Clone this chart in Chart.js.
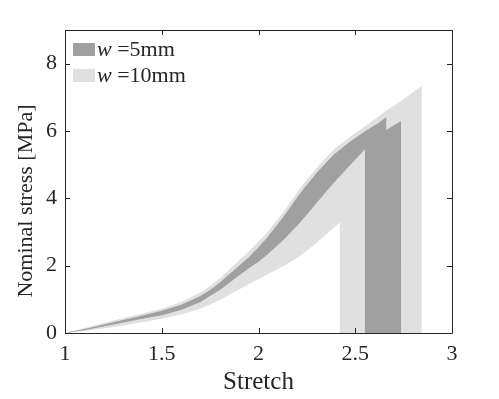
<!DOCTYPE html>
<html>
<head>
<meta charset="utf-8">
<script src="https://cdn.jsdelivr.net/npm/chart.js@4.4.1/dist/chart.umd.min.js"></script>
<style>
  html, body { margin: 0; padding: 0; background: #fff; }
  #wrap { width: 499px; height: 399px; }
</style>
</head>
<body>
<div id="wrap"><canvas id="chart" width="499" height="399"></canvas></div>
<script>
// w = 5mm band (max / min of the samples)
const w5UpperStretch = [1, 1.1, 1.25, 1.4, 1.5, 1.6, 1.7, 1.75, 1.8, 1.87, 1.95, 2.0, 2.043, 2.13, 2.215, 2.3, 2.387, 2.474, 2.56, 2.62, 2.66, 2.6602, 2.737, 2.7372];
const w5UpperStress  = [0, 0.12, 0.32, 0.52, 0.66, 0.84, 1.1, 1.28, 1.5, 1.85, 2.25, 2.55, 2.82, 3.46, 4.15, 4.75, 5.29, 5.69, 6.03, 6.24, 6.41, 6.03, 6.30, 0];
const w5LowerStretch = [1, 1.1, 1.25, 1.4, 1.5, 1.6, 1.7, 1.75, 1.8, 1.87, 1.95, 2.0, 2.043, 2.13, 2.215, 2.3, 2.387, 2.474, 2.55, 2.5502, 2.7372];
const w5LowerStress  = [0, 0.08, 0.25, 0.42, 0.53, 0.68, 0.92, 1.1, 1.28, 1.58, 1.92, 2.12, 2.32, 2.77, 3.28, 3.86, 4.45, 4.99, 5.46, 0, 0];

// w = 10mm band
const w10UpperStretch = [1, 1.1, 1.25, 1.4, 1.5, 1.6, 1.7, 1.75, 1.8, 1.87, 1.95, 2.0, 2.043, 2.13, 2.215, 2.3, 2.387, 2.474, 2.56, 2.66, 2.73, 2.844, 2.8442];
const w10UpperStress  = [0, 0.15, 0.37, 0.58, 0.72, 0.92, 1.2, 1.4, 1.62, 2.0, 2.42, 2.72, 2.97, 3.6, 4.3, 4.9, 5.44, 5.83, 6.18, 6.6, 6.87, 7.34, 0];
const w10LowerStretch = [1, 1.1, 1.25, 1.4, 1.5, 1.6, 1.7, 1.75, 1.8, 1.87, 1.95, 2.043, 2.13, 2.215, 2.3, 2.42, 2.4202, 2.8442];
const w10LowerStress  = [0, 0.06, 0.18, 0.32, 0.42, 0.55, 0.72, 0.85, 0.98, 1.2, 1.45, 1.73, 1.99, 2.29, 2.67, 3.28, 0, 0];

const xTicks = [1, 1.5, 2, 2.5, 3];
const yTicks = [0, 2, 4, 6, 8];
const legendLabels = ["=5mm", "=10mm"];
const yTitle = "Nominal stress [MPa]";

const darkGray = "#a0a0a0";
const lightGray = "#e0e0e0";
const ink = "#262626";
const serif = "'Liberation Serif', 'DejaVu Serif', serif";

const pts = (xs, ys) => xs.map((x, i) => ({ x, y: ys[i] }));

function band(data, fill, color) {
  return {
    data,
    fill,
    backgroundColor: color,
    borderColor: "transparent",
    borderWidth: 0,
    pointRadius: 0,
    tension: 0
  };
}

// box around the plot with inward ticks, matlab style, plus legend and y label
const boxPlugin = {
  id: "box",
  afterDraw(chart) {
    const { ctx, chartArea: a, scales } = chart;
    ctx.save();
    ctx.strokeStyle = ink;
    ctx.lineWidth = 1;
    ctx.beginPath();
    ctx.rect(Math.round(a.left) + 0.5, Math.round(a.top) + 0.5,
             Math.round(a.right - a.left), Math.round(a.bottom - a.top));
    const t = 5;
    xTicks.forEach(v => {
      const p = Math.round(scales.x.getPixelForValue(v)) + 0.5;
      ctx.moveTo(p, a.bottom); ctx.lineTo(p, a.bottom - t);
      ctx.moveTo(p, a.top); ctx.lineTo(p, a.top + t);
    });
    yTicks.forEach(v => {
      const p = Math.round(scales.y.getPixelForValue(v)) + 0.5;
      ctx.moveTo(a.left, p); ctx.lineTo(a.left + t, p);
      ctx.moveTo(a.right, p); ctx.lineTo(a.right - t, p);
    });
    ctx.stroke();

    // legend
    const colors = [darkGray, lightGray];
    const x0 = a.left + 8;
    legendLabels.forEach((lab, i) => {
      const yTop = a.top + 13 + i * 26;
      ctx.fillStyle = colors[i];
      ctx.fillRect(x0, yTop, 22, 13);
      ctx.fillStyle = ink;
      ctx.textBaseline = "alphabetic";
      ctx.font = "italic 22px " + serif;
      const base = yTop + 13;
      ctx.fillText("w", x0 + 24, base);
      const ww = ctx.measureText("w").width;
      ctx.font = "22px " + serif;
      ctx.fillText(" " + lab, x0 + 24 + ww, base);
    });

    // y axis label
    ctx.translate(26, 201);
    ctx.rotate(-Math.PI / 2);
    ctx.font = "22px " + serif;
    ctx.textAlign = "center";
    ctx.textBaseline = "middle";
    ctx.fillText(yTitle, 0, 0);
    ctx.restore();
  }
};

new Chart(document.getElementById("chart"), {
  type: "line",
  data: {
    datasets: [
      band(pts(w5UpperStretch, w5UpperStress), 1, darkGray),
      band(pts(w5LowerStretch, w5LowerStress), false, darkGray),
      band(pts(w10UpperStretch, w10UpperStress), 3, lightGray),
      band(pts(w10LowerStretch, w10LowerStress), false, lightGray)
    ]
  },
  options: {
    responsive: false,
    animation: false,
    layout: { padding: { left: 0, top: 30, right: 47, bottom: 0 } },
    plugins: {
      legend: { display: false },
      tooltip: { enabled: false }
    },
    scales: {
      x: {
        type: "linear",
        min: 1,
        max: 3,
        afterBuildTicks: s => { s.ticks = xTicks.map(v => ({ value: v })); },
        afterFit: s => { s.height = 66; },
        grid: { display: false },
        border: { display: false },
        ticks: { color: ink, font: { family: serif, size: 22 }, padding: 0, maxRotation: 0, callback: v => String(v) },
        title: { display: true, text: "Stretch", color: ink, font: { family: serif, size: 25 }, padding: { top: 0, bottom: 2 } }
      },
      y: {
        type: "linear",
        min: 0,
        max: 9,
        afterBuildTicks: s => { s.ticks = yTicks.map(v => ({ value: v })); },
        afterFit: s => { s.width = 65; },
        grid: { display: false },
        border: { display: false },
        ticks: { color: ink, font: { family: serif, size: 22 }, padding: 0, callback: v => String(v) }
      }
    }
  },
  plugins: [boxPlugin]
});
</script>
</body>
</html>
